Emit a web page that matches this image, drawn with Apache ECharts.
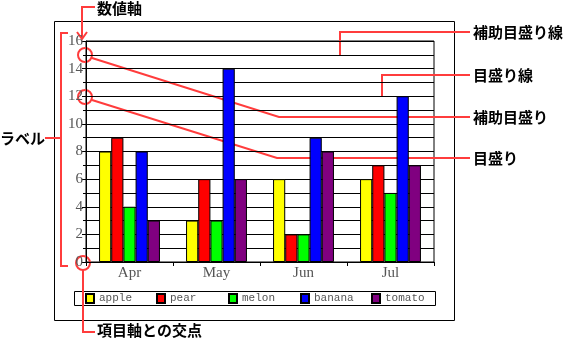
<!DOCTYPE html>
<html><head><meta charset="utf-8">
<script src="https://cdn.jsdelivr.net/npm/echarts@6/dist/echarts.min.js"></script>
<style>html,body{margin:0;padding:0;background:#fff}#c{width:563px;height:338px}</style>
</head><body><div id="c"></div>
<script>
const categories = ['Apr', 'May', 'Jun', 'Jul'];
const seriesNames = ['apple', 'pear', 'melon', 'banana', 'tomato'];
const apple = [8, 3, 6, 6];
const pear = [9, 6, 2, 7];
const melon = [4, 3, 2, 5];
const banana = [8, 14, 9, 12];
const tomato = [3, 6, 8, 7];
const colors = ['#ffff00', '#ff0000', '#00ff00', '#0000ff', '#800080'];
const values = [apple, pear, melon, banana, tomato];

const RED = '#ff3c3c';
const jp = {fontFamily: 'Noto Sans CJK JP', fontWeight: 'bold', fontSize: 15, fill: '#000'};
function line(points, extra) {
  return Object.assign({type: 'polyline', shape: {points: points}, style: {stroke: RED, lineWidth: 2, fill: null}, silent: true}, extra || {});
}
function circle(cx, cy, r) {
  return {type: 'circle', shape: {cx: cx, cy: cy, r: r}, style: {stroke: RED, lineWidth: 2, fill: null}, silent: true};
}
function label(text, x, y) {
  return {type: 'text', x: x, y: y, style: Object.assign({text: text, textVerticalAlign: 'middle', verticalAlign: 'middle'}, jp), silent: true};
}

const legendX = [85, 156, 228, 300, 371];

const chart = echarts.init(document.getElementById('c'));
chart.setOption({
  animation: false,
  grid: {left: 86, top: 41, right: 129, bottom: 76, show: true, borderColor: '#000', borderWidth: 1, outerBoundsMode: 'none'},
  legend: seriesNames.map((n, i) => ({
    data: [n], left: legendX[i], top: 293, itemWidth: 8, itemHeight: 9, padding: 0,
    icon: 'rect',
    textStyle: {fontFamily: 'Liberation Mono', fontSize: 11, color: '#555'}
  })),
  xAxis: {
    type: 'category', data: categories,
    axisLine: {lineStyle: {color: '#000', width: 1}},
    axisTick: {show: true, length: 4, lineStyle: {color: '#000'}},
    axisLabel: {fontFamily: 'Liberation Serif', fontSize: 15, color: '#555', margin: 4}
  },
  yAxis: {
    type: 'value', min: 0, max: 16, interval: 2,
    axisLine: {show: true, lineStyle: {color: '#000', width: 1}},
    axisTick: {show: true, length: 4, lineStyle: {color: '#000'}},
    minorTick: {show: true, splitNumber: 2, length: 3, lineStyle: {color: '#000'}},
    splitLine: {show: true, lineStyle: {color: '#000', width: 1}},
    minorSplitLine: {show: true, lineStyle: {color: '#000', width: 1}},
    axisLabel: {fontFamily: 'Liberation Serif', fontSize: 15, color: '#555', margin: 3}
  },
  series: seriesNames.map((n, i) => ({
    name: n, type: 'bar', data: values[i],
    barGap: '0%', barCategoryGap: '30%',
    itemStyle: {color: colors[i], borderColor: '#000', borderWidth: 1}
  })),
  graphic: [
    {type: 'rect', shape: {x: 54.5, y: 21.5, width: 400, height: 299}, style: {stroke: '#000', lineWidth: 1, fill: null}, silent: true, z: -1},
    {type: 'rect', shape: {x: 74.5, y: 291.5, width: 361, height: 14}, style: {stroke: '#000', lineWidth: 1, fill: null}, silent: true},
    line([[95, 7], [82, 7], [82, 39]]),
    line([[77, 32], [82, 39], [87, 32]]),
    label('数値軸', 97, 8),
    line([[68, 33], [61, 33], [61, 266], [68, 266]]),
    line([[45, 138], [61, 138]]),
    label('ラベル', 0, 138),
    circle(85, 55, 7),
    circle(85, 97, 7),
    circle(83, 263, 7),
    line([[92, 58], [279, 117], [470, 117]]),
    label('補助目盛り', 473, 117),
    line([[92, 100], [277, 158], [470, 158]]),
    label('目盛り', 473, 158),
    line([[340, 55], [340, 32], [470, 32]]),
    label('補助目盛り線', 473, 32),
    line([[382, 97], [382, 75], [470, 75]]),
    label('目盛り線', 473, 75),
    line([[83, 270], [83, 332], [95, 332]]),
    label('項目軸との交点', 97, 330)
  ]
});
</script></body></html>
